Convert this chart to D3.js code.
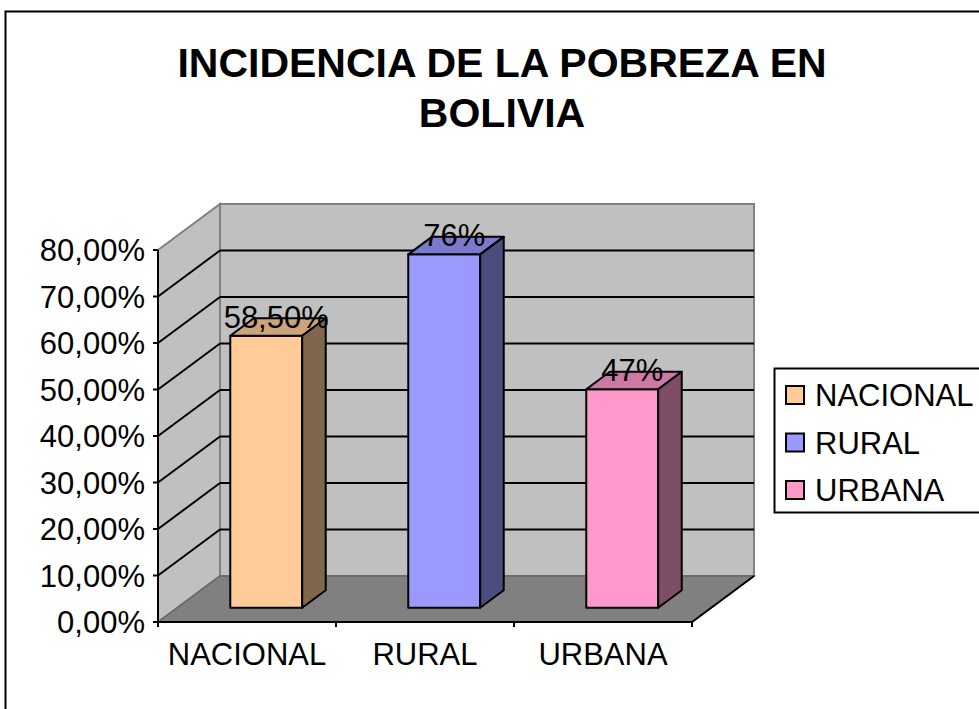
<!DOCTYPE html>
<html>
<head>
<meta charset="utf-8">
<script src="https://cdn.jsdelivr.net/npm/d3@7"></script>
<style>
    body { margin: 0; background: #fff; }
    text { font-family: "Liberation Sans", Arial, sans-serif; fill: #000; }
</style>
</head>
<body>
<svg id="chart" width="979" height="709"></svg>
<script>
"use strict";

// data
const categories = ['NACIONAL', 'RURAL', 'URBANA'];
const values = [0.585, 0.76, 0.47];
const value_labels = ['58,50%', '76%', '47%'];
const y_ticks = [0, 0.1, 0.2, 0.3, 0.4, 0.5, 0.6, 0.7, 0.8];
const title_lines = ['INCIDENCIA DE LA POBREZA EN', 'BOLIVIA'];

const front_colors = ['#FFCC99', '#9999FF', '#FF99CC'];
const top_colors = ['#CCA37A', '#7A7ACC', '#CC7AA3'];
const side_colors = ['#7F664C', '#4C4C7F', '#7F4C66'];

// plot geometry (front plane)
const x0 = 158, x1 = 692, y0 = 622, y1 = 250;
const depth = {dx: 62, dy: -46};
const bar_depth = [0.31, 0.69];

const svg = d3.select('#chart');

const yScale = d3.scaleLinear().domain([0, 0.8]).range([y0, y1]);
const xCat = d3.scaleBand().domain(categories).range([x0, x1]).padding(0);
const xBar = d3.scaleBand().domain(categories).range([x0, x1])
    .paddingInner(0.596).paddingOuter(0.298);

// project a front-plane point back by a depth fraction
const P = (x, y, d) => [x + d * depth.dx, y + d * depth.dy];
const poly = pts => pts.map(p => p.join(',')).join(' ');

// outer border
svg.append('rect')
    .attr('x', 5.5).attr('y', 11.5)
    .attr('width', 1000).attr('height', 720)
    .attr('fill', 'none').attr('stroke', '#000').attr('stroke-width', 2);

// title
svg.append('text')
    .attr('x', 502).attr('y', 77)
    .attr('text-anchor', 'middle')
    .style('font-size', '41px').style('font-weight', 'bold')
    .selectAll('tspan')
    .data(title_lines)
    .join('tspan')
    .attr('x', 502)
    .attr('dy', (d, i) => i ? 50 : 0)
    .text(d => d);

// walls
const walls = svg.append('g');
const bx0 = P(x0, y0, 1), bx1 = P(x1, y0, 1), btop = P(x0, y1, 1);

walls.append('polygon')
    .attr('points', poly([[bx0[0], btop[1]], [bx1[0], btop[1]], [bx1[0], bx1[1]], bx0]))
    .attr('fill', '#C0C0C0').attr('stroke', '#808080').attr('stroke-width', 2);

walls.append('polygon')
    .attr('points', poly([[x0, y1], btop, bx0, [x0, y0]]))
    .attr('fill', '#C0C0C0').attr('stroke', '#808080').attr('stroke-width', 2);

walls.append('polygon')
    .attr('points', poly([[x0, y0], bx0, bx1, [x1, y0]]))
    .attr('fill', '#808080').attr('stroke', '#666').attr('stroke-width', 1.5);

// gridlines on back and side walls
const grid = y_ticks.filter(v => v > 0 && v < 0.8);
walls.selectAll('.grid-back')
    .data(grid)
    .join('line')
    .attr('class', 'grid-back')
    .attr('x1', bx0[0]).attr('x2', bx1[0])
    .attr('y1', d => P(x0, yScale(d), 1)[1])
    .attr('y2', d => P(x0, yScale(d), 1)[1])
    .attr('stroke', '#000').attr('stroke-width', 2);

walls.selectAll('.grid-side')
    .data(grid)
    .join('line')
    .attr('class', 'grid-side')
    .attr('x1', x0).attr('y1', d => yScale(d))
    .attr('x2', bx0[0]).attr('y2', d => P(x0, yScale(d), 1)[1])
    .attr('stroke', '#000').attr('stroke-width', 2);

// floor front and right edges
walls.append('polyline')
    .attr('points', poly([[x0 - 5, y0], [x1, y0], bx1]))
    .attr('fill', 'none').attr('stroke', '#000').attr('stroke-width', 2);

// y axis
const yAxis = svg.append('g');
yAxis.append('line')
    .attr('x1', x0).attr('x2', x0).attr('y1', y1).attr('y2', y0)
    .attr('stroke', '#000').attr('stroke-width', 2);
yAxis.selectAll('.tick')
    .data(y_ticks)
    .join('line')
    .attr('class', 'tick')
    .attr('x1', x0 - 5).attr('x2', x0)
    .attr('y1', d => yScale(d)).attr('y2', d => yScale(d))
    .attr('stroke', '#000').attr('stroke-width', 2);
yAxis.selectAll('.label')
    .data(y_ticks)
    .join('text')
    .attr('class', 'label')
    .attr('x', 145)
    .attr('y', d => yScale(d) + 11)
    .attr('text-anchor', 'end')
    .style('font-size', '31px')
    .text(d => d3.format('.2f')(d * 100).replace('.', ',') + '%');

// x axis
const xAxis = svg.append('g');
const x_tick_pos = categories.map(c => xCat(c)).concat([x1]);
xAxis.selectAll('.tick')
    .data(x_tick_pos)
    .join('line')
    .attr('class', 'tick')
    .attr('x1', d => d).attr('x2', d => d)
    .attr('y1', y0).attr('y2', y0 + 5)
    .attr('stroke', '#000').attr('stroke-width', 2);
xAxis.selectAll('.label')
    .data(categories)
    .join('text')
    .attr('class', 'label')
    .attr('x', d => xCat(d) + xCat.bandwidth() / 2)
    .attr('y', 665)
    .attr('text-anchor', 'middle')
    .style('font-size', '31px')
    .text(d => d);

// bars
const bars = svg.append('g');
categories.forEach((c, i) => {
    const [df, db] = bar_depth;
    const xl = xBar(c), xr = xl + xBar.bandwidth();
    const yt = yScale(values[i]);
    const fbl = P(xl, y0, df), fbr = P(xr, y0, df);
    const ftl = P(xl, yt, df), ftr = P(xr, yt, df);
    const btl = P(xl, yt, db), btr = P(xr, yt, db), bbr = P(xr, y0, db);
    const g = bars.append('g')
        .attr('stroke', '#000').attr('stroke-width', 2).attr('stroke-linejoin', 'round');
    g.append('polygon').attr('points', poly([ftl, ftr, fbr, fbl])).attr('fill', front_colors[i]);
    g.append('polygon').attr('points', poly([ftl, btl, btr, ftr])).attr('fill', top_colors[i]);
    g.append('polygon').attr('points', poly([ftr, btr, bbr, fbr])).attr('fill', side_colors[i]);
    bars.append('text')
        .attr('x', (ftl[0] + ftr[0]) / 2 + 10)
        .attr('y', ftl[1] - 8)
        .attr('text-anchor', 'middle')
        .style('font-size', '31px')
        .text(value_labels[i]);
});

// legend
const legend = svg.append('g');
legend.append('rect')
    .attr('x', 774.5).attr('y', 368.5).attr('width', 230).attr('height', 144)
    .attr('fill', '#fff').attr('stroke', '#000').attr('stroke-width', 2);
const items = legend.selectAll('.item')
    .data(categories)
    .join('g')
    .attr('class', 'item')
    .attr('transform', (d, i) => `translate(786,${395 + i * 47.5})`);
items.append('rect')
    .attr('x', 0).attr('y', -9).attr('width', 18).attr('height', 18)
    .attr('fill', (d, i) => front_colors[i]).attr('stroke', '#000').attr('stroke-width', 2);
items.append('text')
    .attr('x', 29).attr('y', 11)
    .style('font-size', '31px')
    .text(d => d);
</script>
</body>
</html>
